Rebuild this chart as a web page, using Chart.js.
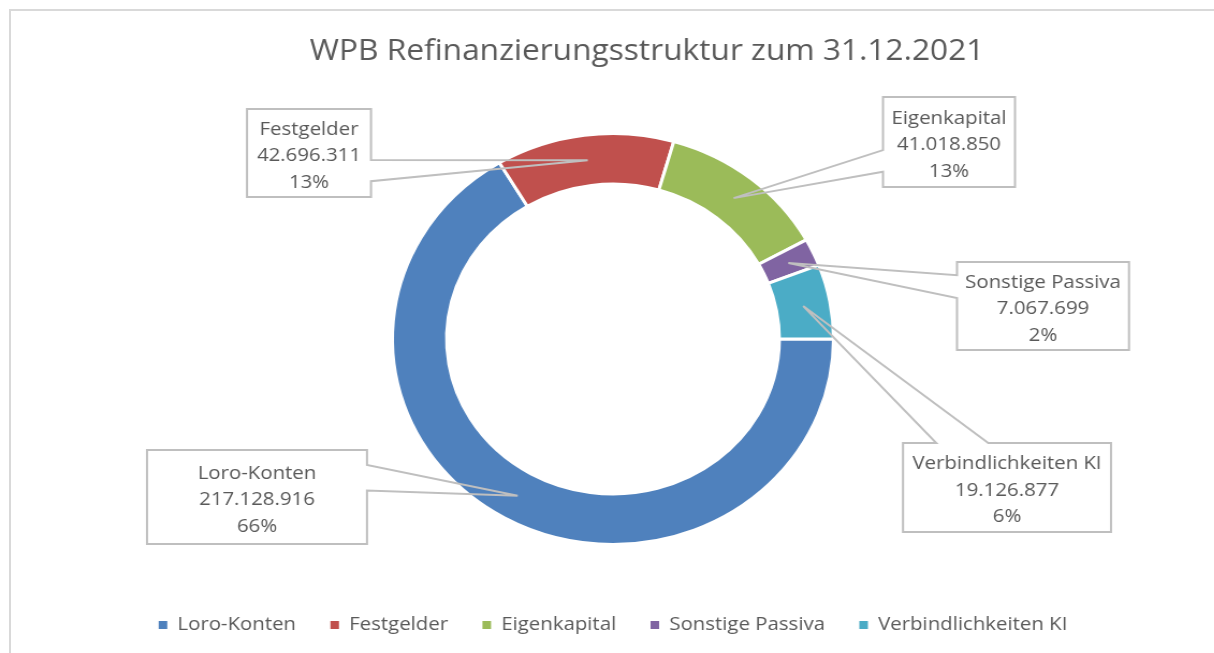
<!DOCTYPE html>
<html>
<head>
<meta charset="utf-8">
<script src="https://cdn.jsdelivr.net/npm/chart.js@4/dist/chart.umd.min.js"></script>
<style>
  body { margin: 0; background: #fff; overflow: hidden; }
  #frame { position: absolute; left: 9px; top: 9px; width: 1300px; height: 700px;
           border-left: 2px solid #d9d9d9; border-top: 2px solid #d9d9d9; }
  /* the original picture is stretched sideways a little, so the canvas is too */
  #wrap { position: absolute; left: 0; top: 0; width: 1131px; height: 653px;
          transform: scaleX(1.0735); transform-origin: 0 0; }
</style>
</head>
<body>
<div id="frame"></div>
<div id="wrap"><canvas id="refi"></canvas></div>
<script>
const categories = ['Loro-Konten', 'Festgelder', 'Eigenkapital', 'Sonstige Passiva', 'Verbindlichkeiten KI'];
const values = [217128916, 42696311, 41018850, 7067699, 19126877];
const colors = ['#4f81bd', '#c0504d', '#9bbb59', '#8064a2', '#4bacc6'];
const titleText = 'WPB Refinanzierungsstruktur zum 31.12.2021';

const SX = 1.0735;

// callout boxes in screen pixels (layout only), wedge opening as fractions along one edge
const calloutBoxes = [
    {x: 147, y: 450, w: 220, h: 94, edge: 'right', a: 0.16, b: 0.43},
    {x: 247, y: 109, w: 124, h: 88, edge: 'right', a: 0.58, b: 0.82},
    {x: 883, y: 97,  w: 132, h: 90, edge: 'left',  a: 0.59, b: 0.83},
    {x: 957, y: 262, w: 172, h: 88, edge: 'left',  a: 0.15, b: 0.41},
    {x: 903, y: 443, w: 208, h: 89, edge: 'top',   a: 0.16, b: 0.41}
];

const FONT = '"Open Sans", Lato, sans-serif';
const TEXT = '#595959';

function fmt(n) {
    return String(n).replace(/\B(?=(\d{3})+(?!\d))/g, '.');
}
const total = values.reduce((s, v) => s + v, 0);

const calloutPlugin = {
    id: 'callouts',
    afterDatasetsDraw(chart) {
        const ctx = chart.ctx;
        const arcs = chart.getDatasetMeta(0).data;
        ctx.save();
        arcs.forEach((arc, i) => {
            const b = calloutBoxes[i];
            const tip = arc.tooltipPosition();
            const L = b.x / SX, T = b.y, W = b.w / SX, R = L + W, B = b.y + b.h;
            const pts = [[L, T]];
            if (b.edge === 'top') pts.push([L + b.a * W, T], [tip.x, tip.y], [L + b.b * W, T]);
            pts.push([R, T]);
            if (b.edge === 'right') pts.push([R, T + b.a * b.h], [tip.x, tip.y], [R, T + b.b * b.h]);
            pts.push([R, B], [L, B]);
            if (b.edge === 'left') pts.push([L, T + b.b * b.h], [tip.x, tip.y], [L, T + b.a * b.h]);
            ctx.fillStyle = '#fff';
            ctx.fillRect(L, T, W, b.h);
            ctx.beginPath();
            pts.forEach((p, k) => k ? ctx.lineTo(p[0], p[1]) : ctx.moveTo(p[0], p[1]));
            ctx.closePath();
            ctx.strokeStyle = '#bfbfbf';
            ctx.lineWidth = 2;
            ctx.stroke();

            const lines = [categories[i], fmt(values[i]), Math.round(values[i] / total * 100) + '%'];
            ctx.fillStyle = TEXT;
            ctx.font = '19px ' + FONT;
            ctx.textAlign = 'center';
            ctx.textBaseline = 'alphabetic';
            const cx = L + W / 2, cy = T + b.h / 2;
            lines.forEach((t, k) => ctx.fillText(t, cx, cy + 8 + (k - 1) * 26.5));
        });
        ctx.fillStyle = TEXT;
        ctx.font = '29.5px ' + FONT;
        ctx.textAlign = 'center';
        ctx.textBaseline = 'alphabetic';
        ctx.fillText(titleText, 647 / SX, 60);
        ctx.restore();
    }
};

new Chart(document.getElementById('refi'), {
    type: 'doughnut',
    data: {
        labels: categories,
        datasets: [{
            data: values,
            backgroundColor: colors,
            borderColor: '#fff',
            borderWidth: 3,
            radius: 205.5,
            cutout: '75.4%'
        }]
    },
    options: {
        responsive: true,
        maintainAspectRatio: false,
        animation: false,
        rotation: 90,
        layout: { padding: { top: 94.5, bottom: 8.5, left: 11, right: 0 } },
        plugins: {
            tooltip: { enabled: false },
            legend: {
                position: 'bottom',
                labels: {
                    font: { family: FONT, size: 19 },
                    color: TEXT,
                    boxWidth: 8,
                    boxHeight: 8,
                    padding: 32,
                    generateLabels: function(chart) {
                        return Chart.overrides.doughnut.plugins.legend.labels.generateLabels(chart)
                            .map(l => ({...l, lineWidth: 0}));
                    }
                }
            }
        }
    },
    plugins: [calloutPlugin]
});
</script>
</body>
</html>
